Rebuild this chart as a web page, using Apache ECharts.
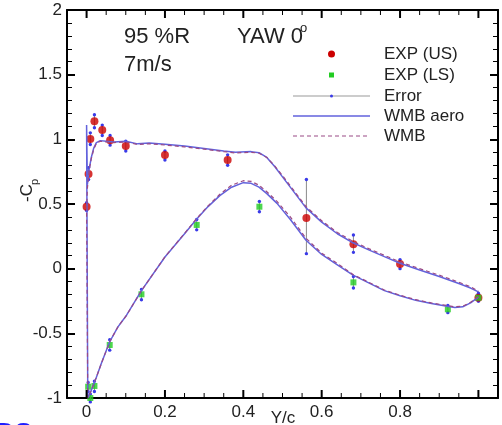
<!DOCTYPE html>
<html><head><meta charset="utf-8">
<script src="https://cdn.jsdelivr.net/npm/echarts@6/dist/echarts.min.js"></script>
<style>html,body{margin:0;padding:0;background:#fff}#c{width:502px;height:425px}</style>
</head><body><div id="c"></div>
<script>
// Experimental points, upper surface
const usX  = [0.000, 0.005, 0.0095, 0.020, 0.040, 0.060, 0.100, 0.200, 0.360, 0.561, 0.681, 0.800, 1.000];
const usY  = [0.479, 0.732, 1.003, 1.139, 1.072, 0.992, 0.948, 0.879, 0.840, 0.392, 0.188, 0.036, -0.225];
const usLo = [0.450, 0.690, 0.960, 1.090, 1.030, 0.955, 0.910, 0.840, 0.800, 0.116, 0.126, 0.000, -0.250];
const usHi = [0.510, 0.780, 1.050, 1.190, 1.110, 1.030, 0.985, 0.910, 0.880, 0.690, 0.260, 0.070, -0.190];
// Experimental points, lower surface
const lsX  = [0.004, 0.0095, 0.020, 0.059, 0.140, 0.281, 0.441, 0.681, 0.922, 1.000];
const lsY  = [-0.913, -1.000, -0.907, -0.590, -0.198, 0.338, 0.479, -0.106, -0.314, -0.225];
const lsLo = [-0.950, -1.030, -0.950, -0.630, -0.240, 0.300, 0.440, -0.150, -0.340, -0.250];
const lsHi = [-0.880, -0.970, -0.870, -0.550, -0.160, 0.380, 0.520, -0.060, -0.285, -0.200];
// WMB aero curve (trailing edge lower -> leading edge -> trailing edge upper)
const aeroX = [1.0,0.98,0.96,0.94,0.92,0.88,0.84,0.8,0.76,0.72,0.68,0.64,0.6,0.56,0.52,0.486,0.46,0.44,0.42,0.4,0.37,0.34,0.31,0.28,0.25,0.2,0.14,0.102,0.08,0.059,0.038,0.025,0.016,0.008,0.003,
  0.0,0.002,0.006,0.012,0.018,0.025,0.035,0.05,0.07,0.1,0.13,0.16,0.2,0.25,0.3,0.35,0.38,0.42,0.44,0.46,0.48,0.5,0.53,0.56,0.6,0.64,0.68,0.72,0.76,0.8,0.85,0.9,0.95,0.98,1.0];
const aeroY = [-0.22,-0.265,-0.295,-0.30,-0.29,-0.27,-0.245,-0.21,-0.17,-0.11,-0.05,0.03,0.11,0.22,0.38,0.505,0.58,0.63,0.66,0.665,0.63,0.565,0.48,0.38,0.27,0.09,-0.17,-0.36,-0.45,-0.565,-0.73,-0.84,-0.91,-0.97,-1.0,
  1.11,0.65,0.76,0.86,0.93,0.975,0.99,0.985,0.98,0.985,0.965,0.972,0.962,0.948,0.93,0.91,0.90,0.905,0.897,0.86,0.79,0.71,0.59,0.47,0.36,0.27,0.20,0.145,0.093,0.042,-0.01,-0.06,-0.115,-0.15,-0.18];
// WMB curve
const wmbX = aeroX;
const wmbY = [-0.215,-0.26,-0.29,-0.295,-0.285,-0.265,-0.24,-0.205,-0.165,-0.105,-0.045,0.04,0.12,0.235,0.40,0.52,0.595,0.645,0.675,0.68,0.645,0.575,0.485,0.385,0.272,0.092,-0.17,-0.36,-0.45,-0.565,-0.73,-0.84,-0.91,-0.97,-1.0,
  0.45,0.62,0.75,0.85,0.92,0.97,0.985,0.98,0.975,0.98,0.96,0.966,0.956,0.942,0.924,0.905,0.895,0.90,0.893,0.86,0.795,0.72,0.60,0.48,0.37,0.28,0.21,0.155,0.103,0.052,0.0,-0.05,-0.105,-0.14,-0.175];
// Tick values
const xMajor = [0, 0.2, 0.4, 0.6, 0.8, 1.0];
const xLabels = [0, 0.2, 0.4, 0.6, 0.8];
const xMinor = [0.05,0.1,0.15,0.25,0.3,0.35,0.45,0.5,0.55,0.65,0.7,0.75,0.85,0.9,0.95,1.05];

const FONT = "'Liberation Sans', Arial, sans-serif";
const X_MIN = -0.05, X_MAX = 1.05, Y_MIN = -1, Y_MAX = 2;
const pairs = (xs, ys) => xs.map((x, i) => [x, ys[i]]);
const trip = (xs, lo, hi) => xs.map((x, i) => [x, lo[i], hi[i]]);

const LINE = { show: true, onZero: false, lineStyle: { color: '#000', width: 2 } };
const xAxes = [
  { type: 'value', min: X_MIN, max: X_MAX, position: 'bottom', splitLine: { show: false },
    axisLine: LINE, axisTick: { show: false },
    axisLabel: { show: true, customValues: xLabels, margin: 6, color: '#222', fontSize: 17, fontFamily: FONT } },
  { type: 'value', min: X_MIN, max: X_MAX, position: 'top', splitLine: { show: false },
    axisLine: LINE, axisTick: { show: false }, axisLabel: { show: false } }
];
function yAxisDef(pos, labels) {
  return { type: 'value', min: Y_MIN, max: Y_MAX, interval: 0.5, position: pos, splitLine: { show: false },
    axisLine: LINE,
    axisTick: { show: true, inside: true, length: 8, lineStyle: { color: '#000', width: 2 } },
    minorTick: { show: true, splitNumber: 5, length: 5, lineStyle: { color: '#000', width: 1 } },
    minorSplitLine: { show: false },
    axisLabel: labels ? { show: true, margin: 5, color: '#222', fontSize: 17, fontFamily: FONT } : { show: false } };
}
const yAxes = [yAxisDef('left', true), yAxisDef('right', false)];

const BLUE = '#6262dc', PURPLE = '#9a4a86', ERRDOT = '#3a3ae8';
function renderErr(params, api) {
  const x = api.value(0), lo = api.value(1), hi = api.value(2);
  const p1 = api.coord([x, lo]), p2 = api.coord([x, hi]);
  return { type: 'group', children: [
    { type: 'line', shape: { x1: p1[0], y1: p1[1], x2: p2[0], y2: p2[1] }, style: { stroke: '#8a8a8a', lineWidth: 1 } },
    { type: 'circle', shape: { cx: p1[0], cy: p1[1], r: 1.7 }, style: { fill: ERRDOT } },
    { type: 'circle', shape: { cx: p2[0], cy: p2[1], r: 1.7 }, style: { fill: ERRDOT } }
  ] };
}
// x-axis tick marks on bottom and top frame edges, placed through the axis scale
function renderXTick(params, api) {
  const v = api.value(0);
  const major = xMajor.indexOf(v) >= 0;
  const len = major ? 8 : 5, w = major ? 2 : 1;
  const b = api.coord([v, Y_MIN]), t = api.coord([v, Y_MAX]);
  return { type: 'group', children: [
    { type: 'line', shape: { x1: b[0], y1: b[1], x2: b[0], y2: b[1] - len }, style: { stroke: '#000', lineWidth: w } },
    { type: 'line', shape: { x1: t[0], y1: t[1], x2: t[0], y2: t[1] + len }, style: { stroke: '#000', lineWidth: w } }
  ] };
}

const legendY = [54, 75, 96, 116, 136];
const legendNames = ['EXP (US)', 'EXP (LS)', 'Error', 'WMB aero', 'WMB'];
const graphics = [
  { type: 'text', left: 124, top: 26, style: { text: '95 %R', fontSize: 22, fontFamily: FONT, fill: '#222' } },
  { type: 'text', left: 237, top: 26, style: { text: 'YAW 0', fontSize: 22, fontFamily: FONT, fill: '#222' } },
  { type: 'text', left: 300, top: 22, style: { text: 'o', fontSize: 13, fontFamily: FONT, fill: '#222' } },
  { type: 'text', left: 124, top: 54, style: { text: '7m/s', fontSize: 22, fontFamily: FONT, fill: '#222' } },
  { type: 'text', x: 283, y: 418, style: { text: 'Y/c', fontSize: 17, fontFamily: FONT, fill: '#222', align: 'center', verticalAlign: 'middle' } },
  { type: 'text', x: 27, y: 193, rotation: Math.PI / 2, style: { text: '-C', fontSize: 17, fontFamily: FONT, fill: '#222', align: 'center', verticalAlign: 'middle' } },
  { type: 'text', x: 35, y: 182, rotation: Math.PI / 2, style: { text: 'p', fontSize: 11, fontFamily: FONT, fill: '#222', align: 'center', verticalAlign: 'middle' } },
  { type: 'text', x: -4, y: 421, style: { text: 'DS', fontSize: 26, fontWeight: 'bold', fontFamily: FONT, fill: '#1f1fff', verticalAlign: 'top' } },
  { type: 'circle', shape: { cx: 331.5, cy: legendY[0], r: 3.5 }, style: { fill: '#cc0000' } },
  { type: 'rect', shape: { x: 329, y: legendY[1] - 2.5, width: 5, height: 5 }, style: { fill: '#22cc22' } },
  { type: 'line', shape: { x1: 293, y1: legendY[2], x2: 370, y2: legendY[2] }, style: { stroke: '#999', lineWidth: 1.2 } },
  { type: 'circle', shape: { cx: 331.5, cy: legendY[2], r: 1.5 }, style: { fill: ERRDOT } },
  { type: 'line', shape: { x1: 293, y1: legendY[3], x2: 370, y2: legendY[3] }, style: { stroke: BLUE, lineWidth: 1.5 } },
  { type: 'line', shape: { x1: 293, y1: legendY[4], x2: 370, y2: legendY[4] }, style: { stroke: PURPLE, lineWidth: 1.2, lineDash: [4, 3] } }
];
legendNames.forEach((n, i) => graphics.push({ type: 'text', x: 384, y: legendY[i], style: { text: n, fontSize: 17, fontFamily: FONT, fill: '#222', verticalAlign: 'middle' } }));

const chart = echarts.init(document.getElementById('c'), null, { renderer: 'canvas' });
chart.setOption({
  animation: false,
  backgroundColor: '#fff',
  grid: { left: 67, right: 4, top: 10, bottom: 27, outerBoundsMode: 'none', containLabel: false },
  xAxis: xAxes,
  yAxis: yAxes,
  graphic: graphics,
  series: [
    { name: 'ticks', type: 'custom', renderItem: renderXTick, data: xMajor.concat(xMinor).map(v => [v]), z: 6, clip: false, silent: true },
    { name: 'Error', type: 'custom', renderItem: renderErr, data: trip(usX, usLo, usHi), z: 2, clip: false },
    { name: 'Error', type: 'custom', renderItem: renderErr, data: trip(lsX, lsLo, lsHi), z: 2, clip: false },
    { name: 'EXP (US)', type: 'scatter', data: pairs(usX, usY), symbol: 'circle', symbolSize: 8, itemStyle: { color: '#cc0000' }, z: 3 },
    { name: 'EXP (LS)', type: 'scatter', data: pairs(lsX, lsY), symbol: 'rect', symbolSize: 6, itemStyle: { color: '#22cc22' }, z: 3 },
    { name: 'WMB aero', type: 'line', data: pairs(aeroX, aeroY), showSymbol: false, lineStyle: { color: BLUE, width: 1.5 }, z: 4 },
    { name: 'WMB', type: 'line', data: pairs(wmbX, wmbY), showSymbol: false, lineStyle: { color: PURPLE, width: 1.2, type: [4, 3] }, z: 5 }
  ]
});
</script></body></html>
